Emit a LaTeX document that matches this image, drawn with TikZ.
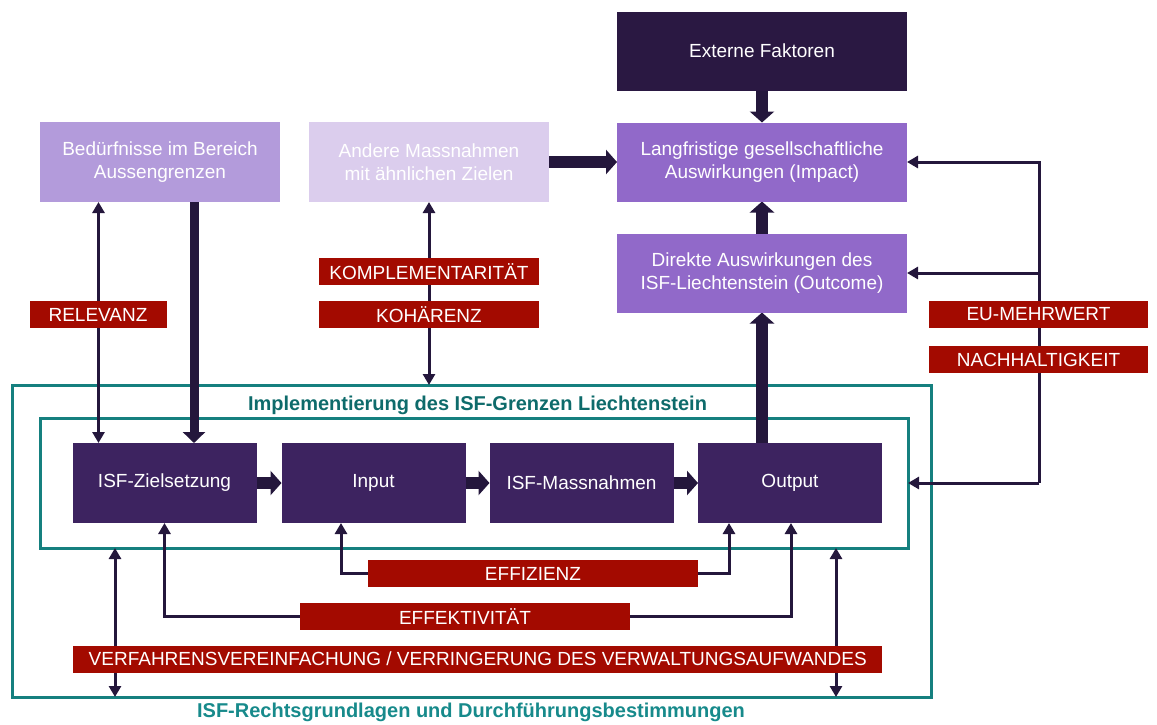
\documentclass[tikz,border=0pt]{standalone}
\usepackage{fontspec}
\setmainfont{Liberation Sans}
\usetikzlibrary{arrows.meta}
\definecolor{extc}{HTML}{2A1842}
\definecolor{isfc}{HTML}{3D2360}
\definecolor{midc}{HTML}{9169C9}
\definecolor{needc}{HTML}{B39BDB}
\definecolor{andc}{HTML}{DBCDED}
\definecolor{redc}{HTML}{A30A00}
\definecolor{tealc}{HTML}{15807F}
\definecolor{ttlc}{HTML}{0E6B6B}
\definecolor{ttlb}{HTML}{178A8B}
\definecolor{arrc}{HTML}{24173C}
\pgfdeclarelayer{back}
\pgfdeclarelayer{mid}
\pgfsetlayers{back,mid,main}
\begin{document}
\begin{tikzpicture}[x=1pt,y=-1pt,
  txt/.style={font=\fontsize{19}{23}\selectfont},
  box/.style={txt, inner sep=0pt, outer sep=0pt, align=center, text=white},
  isfbox/.style={box, fill=isfc, minimum width=184pt, minimum height=80pt},
  midbox/.style={box, fill=midc, minimum width=290pt, minimum height=79pt},
  lbl/.style={txt, fill=redc, text=white, minimum height=27pt, inner sep=0pt, outer sep=0pt},
  frame/.style={draw=tealc, line width=3pt, inner sep=0pt, outer sep=0pt},
  thinarr/.style={draw=arrc, line width=3pt, -{Triangle[length=11pt,width=12pt]}},
  twoarr/.style={draw=arrc, line width=3pt, {Triangle[length=11pt,width=12pt]}-{Triangle[length=11pt,width=12pt]}},
  thickarr/.style={draw=arrc, line width=12pt, -{Triangle[length=11pt,width=24pt]}},
  ttl/.style={font=\fontsize{20}{24}\selectfont\bfseries, inner sep=0pt}
]
\useasboundingbox (0,0) rectangle (1157,724);

% frames
\begin{pgfonlayer}{back}
\node[frame, minimum width=919pt, minimum height=312pt] (outer) at (471.5,541) {};
\node[frame, minimum width=868pt, minimum height=130pt] (inner) at (474,483) {};
\end{pgfonlayer}

% titles
\node[ttl, text=ttlc] (t1) at (477.5,405) {Implementierung des ISF-Grenzen Liechtenstein};
\node[ttl, text=ttlb] (t2) at (471,712) {ISF-Rechtsgrundlagen und Durchführungsbestimmungen};

% top boxes
\node[box, fill=extc, minimum width=290pt, minimum height=79pt] (ext) at (762,51) {Externe Faktoren};
\node[midbox] (imp) at (762,162) {Langfristige gesellschaftliche\\Auswirkungen (Impact)};
\node[midbox] (dir) at (762,273) {Direkte Auswirkungen des\\ISF-Liechtenstein (Outcome)};
\node[box, fill=needc, minimum width=240pt, minimum height=80pt] (need) at (160,162) {Bedürfnisse im Bereich\\Aussengrenzen};
\node[box, fill=andc, minimum width=240pt, minimum height=80pt] (and) at (429,162) {Andere Massnahmen\\mit ähnlichen Zielen};

% ISF chain
\node[isfbox] (zs) at (164.5,483) {ISF-Zielsetzung};
\node[isfbox] (inp) at (373.5,483) {Input};
\node[isfbox] (mas) at (581.5,483) {ISF-Massnahmen};
\node[isfbox] (outp) at (790,483) {Output};

% coordinates
\coordinate (bx) at (194,0);
\coordinate (rx) at (98.5,0);
\coordinate (rc) at (1039,483);
\coordinate (lx) at (115,0);
\coordinate (rxb) at (836,0);

\begin{pgfonlayer}{mid}
% thick arrows
\draw[thickarr] (ext.south) -- (imp.north);
\draw[thickarr] (and.east) -- (imp.west);
\draw[thickarr] (dir.north) -- (imp.south);
\draw[thickarr] (outp.north -| dir.south) -- (dir.south);
\draw[thickarr, line width=9pt, -{Triangle[length=11pt,width=22pt]}] (need.south -| bx) -- (zs.north -| bx);
\draw[thickarr] (zs.east) -- (inp.west);
\draw[thickarr] (inp.east) -- (mas.west);
\draw[thickarr] (mas.east) -- (outp.west);
% thin arrows
\draw[twoarr] (need.south -| rx) -- (zs.north -| rx);
\draw[twoarr] (and.south) -- (outer.north -| and.south);
\draw[thinarr] (rc) |- (imp.east);
\draw[thinarr] (rc) |- (dir.east);
\draw[thinarr] (rc) -- (inner.east);
\draw[twoarr] (inner.south -| lx) -- (outer.south -| lx);
\draw[twoarr] (inner.south -| rxb) -- (outer.south -| rxb);
\end{pgfonlayer}

% labels
\node[lbl, minimum width=137pt] (rel) at (98,314.5) {RELEVANZ};
\node[lbl, minimum width=220pt] (komp) at (429,271.5) {KOMPLEMENTARITÄT};
\node[lbl, minimum width=220pt] (koh) at (429,314.5) {KOHÄRENZ};
\node[lbl, minimum width=219pt] (eu) at (1038.5,314.5) {EU-MEHRWERT};
\node[lbl, minimum width=219pt] (nach) at (1038.5,359.5) {NACHHALTIGKEIT};
\node[lbl, minimum width=330pt] (eff) at (533,573.5) {EFFIZIENZ};
\node[lbl, minimum width=330pt] (efk) at (465,616.5) {EFFEKTIVITÄT};
\node[lbl, minimum width=809pt] (verf) at (477.75,659) {VERFAHRENSVEREINFACHUNG / VERRINGERUNG DES VERWALTUNGSAUFWANDES};

% label connectors
\begin{pgfonlayer}{mid}
\draw[thinarr] (eff.west) -| ([xshift=-32.5pt]inp.south);
\draw[thinarr] (eff.east) -| ([xshift=-61pt]outp.south);
\draw[thinarr] (efk.west) -| (zs.south);
\draw[thinarr] (efk.east) -| ([xshift=1pt]outp.south);
\end{pgfonlayer}
\end{tikzpicture}
\end{document}
